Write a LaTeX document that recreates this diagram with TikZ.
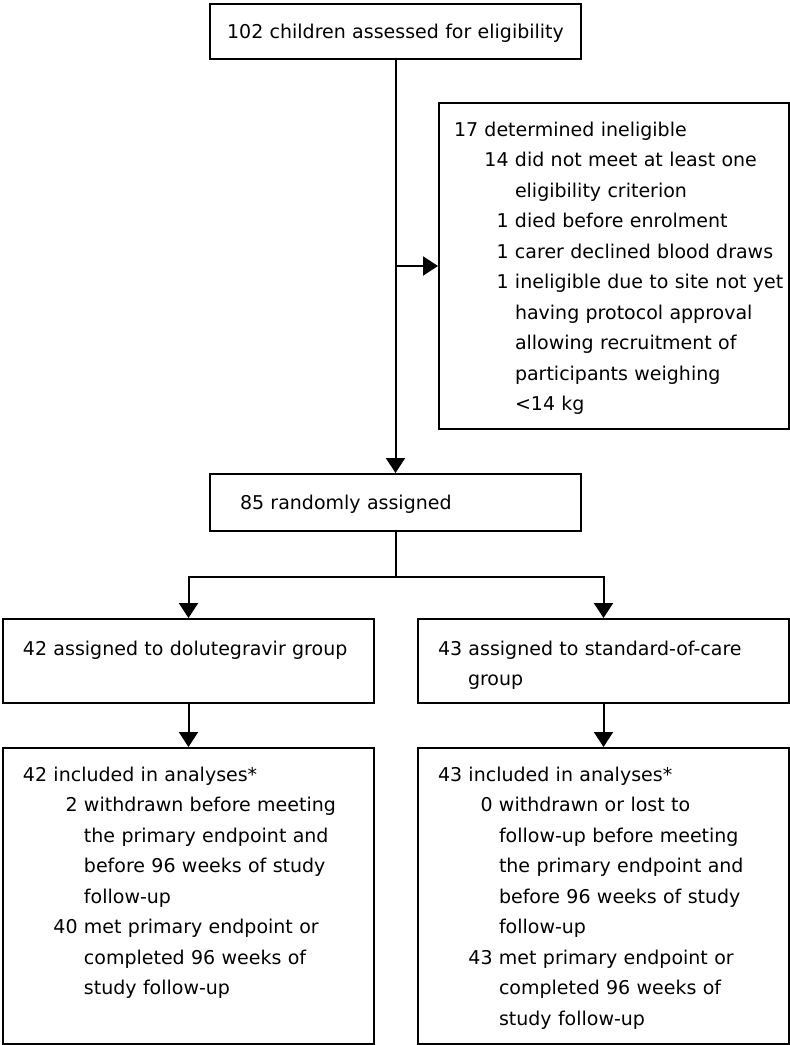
\documentclass[tikz,border=0pt]{standalone}
\usepackage{fontspec}
\setmainfont{DejaVu Sans}
\usetikzlibrary{arrows.meta}

\newcommand{\flowfont}{\fontsize{19pt}{30.5pt}\selectfont}
\newlength{\subcol}
\setlength{\subcol}{61pt}
\newcommand{\subn}[1]{\hspace*{\subcol}\llap{#1\ }}
\newcommand{\subc}{\hspace*{\subcol}}

\tikzset{
  box/.style={draw, line width=2pt, anchor=north west, inner sep=0pt, align=left, font=\flowfont},
  lpad/.style={execute at begin node={\leftskip=#1\relax}},
  line/.style={line width=2pt},
  arr/.style={line width=2pt, -{Triangle[width=19pt,length=15pt]}},
}

\begin{document}
\begin{tikzpicture}[x=1pt, y=1pt]
    \useasboundingbox (0,0) rectangle (790,-1045);
    \node[box, align=center, text width=371pt, text height=34pt, text depth=21pt] (elig) at (209,-3) {102 children assessed for eligibility};
    \node[box, lpad=15pt, text width=350pt, text height=33pt, text depth=293pt] (inelig) at (438,-102) {17 determined ineligible\\
      \subn{14}did not meet at least one\\
      \subc eligibility criterion\\
      \subn{1}died before enrolment\\
      \subn{1}carer declined blood draws\\
      \subn{1}ineligible due to site not yet\\
      \subc having protocol approval\\
      \subc allowing recruitment of\\
      \subc participants weighing\\
      \subc <14 kg};
    \node[box, lpad=30pt, text width=371pt, text height=35pt, text depth=22pt] (rand) at (209,-473) {85 randomly assigned};
    \node[box, lpad=20pt, text width=371pt, text height=36pt, text depth=48pt] (dtg) at (2,-618) {42 assigned to dolutegravir group};
    \node[box, lpad=20pt, text width=371pt, text height=36pt, text depth=48pt] (soc) at (417,-618) {43 assigned to standard-of-care\\
      \hspace*{30pt}group};
    \node[box, lpad=20pt, text width=371pt, text height=33pt, text depth=263pt] (dtgres) at (2,-747) {42 included in analyses*\\
      \subn{2}withdrawn before meeting\\
      \subc the primary endpoint and\\
      \subc before 96 weeks of study\\
      \subc follow-up\\
      \subn{40}met primary endpoint or\\
      \subc completed 96 weeks of\\
      \subc study follow-up};
    \node[box, lpad=20pt, text width=371pt, text height=33pt, text depth=263pt] (socres) at (417,-747) {43 included in analyses*\\
      \subn{0}withdrawn or lost to\\
      \subc follow-up before meeting\\
      \subc the primary endpoint and\\
      \subc before 96 weeks of study\\
      \subc follow-up\\
      \subn{43}met primary endpoint or\\
      \subc completed 96 weeks of\\
      \subc study follow-up};
    \coordinate (tap) at (elig.south |- inelig.west);
    \coordinate (fork) at ([yshift=-45pt]rand.south);
    \draw[arr] (elig) -- (rand);
    \draw[arr] (tap) -- (inelig);
    \draw[line] (rand) -- (fork);
    \draw[arr] (fork) -| (dtg);
    \draw[arr] (fork) -| (soc);
    \draw[arr] (dtg) -- (dtgres);
    \draw[arr] (soc) -- (socres);
\end{tikzpicture}
\end{document}
